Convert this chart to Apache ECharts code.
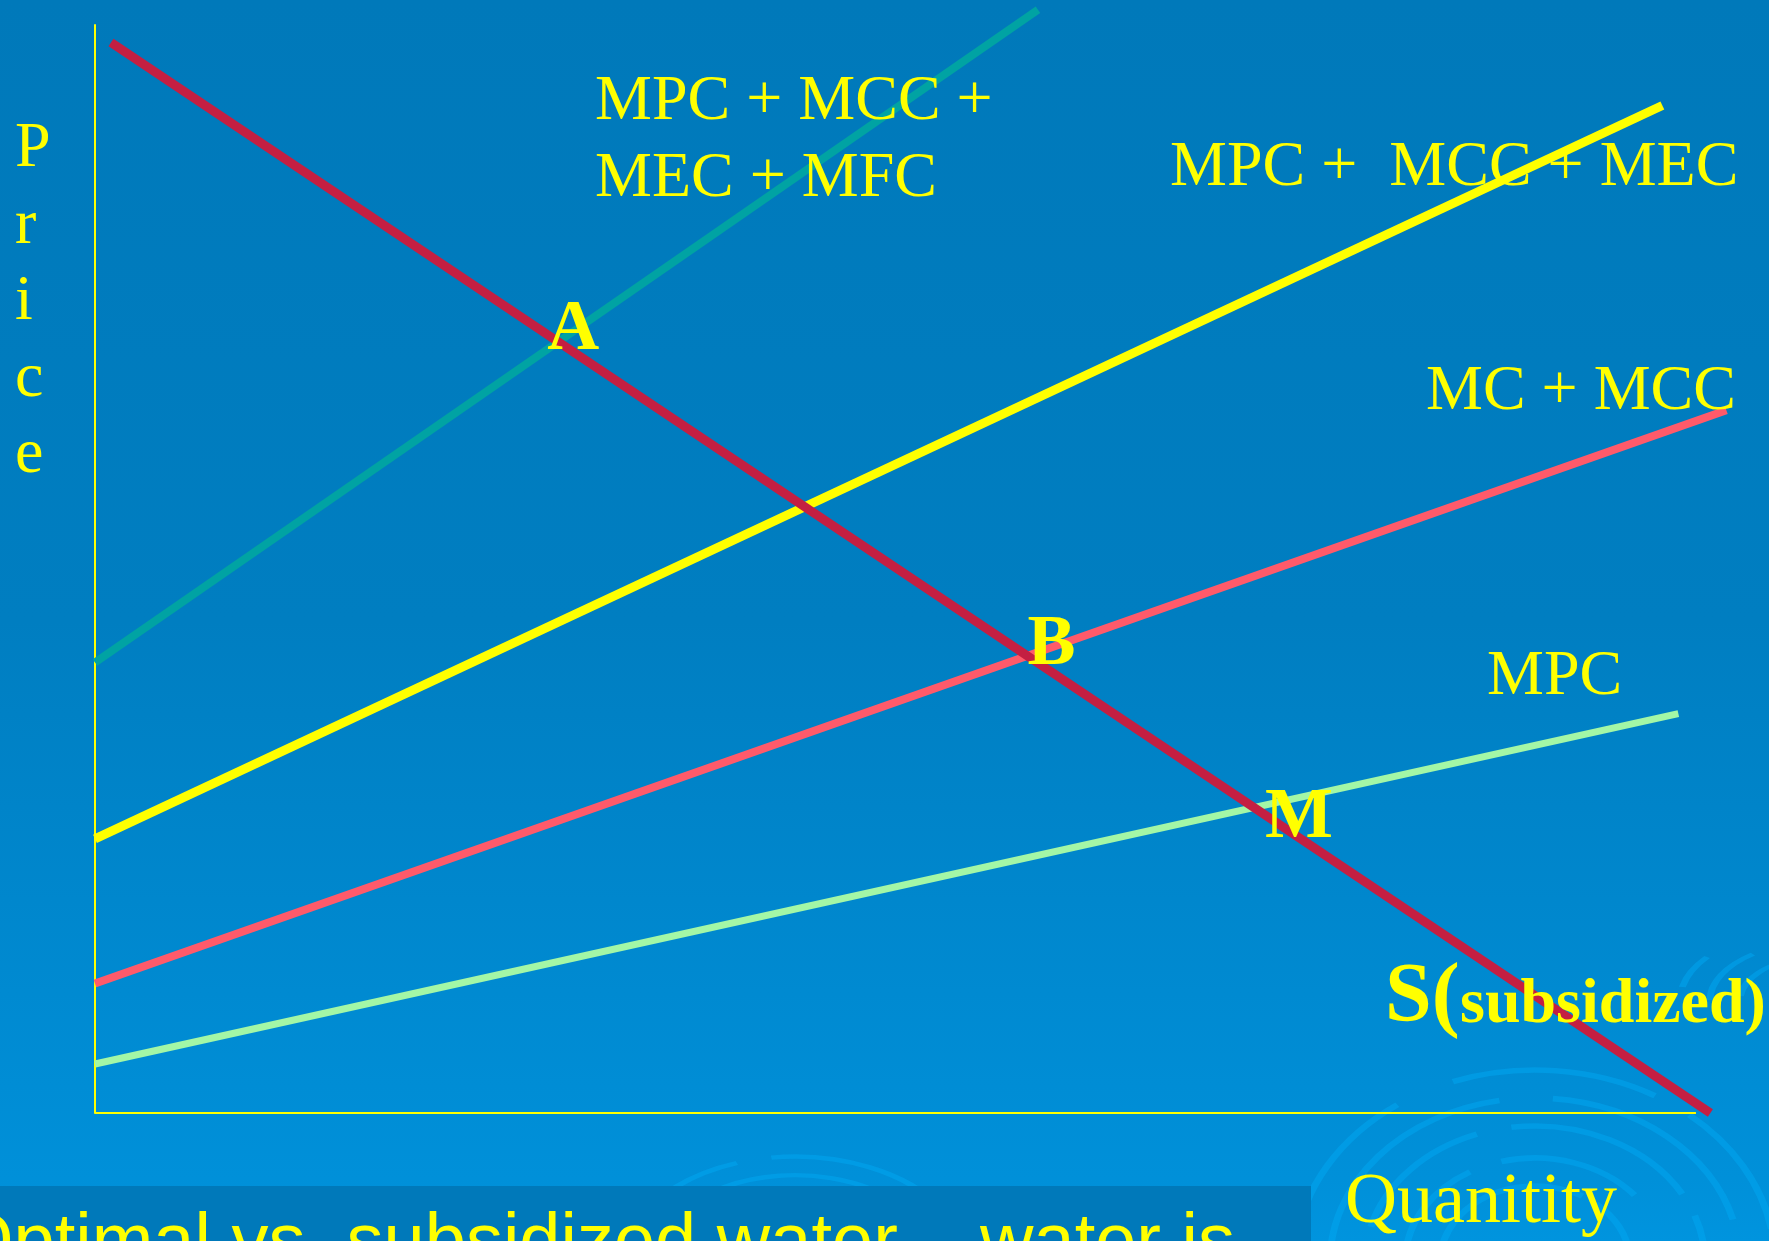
<!DOCTYPE html>
<html>
<head>
<meta charset="utf-8">
<title>Optimal vs. subsidized water</title>
<script src="https://cdn.jsdelivr.net/npm/echarts@6/dist/echarts.min.js"></script>
<style>
  html, body { margin: 0; padding: 0; width: 100%; height: 100%; overflow: hidden; background: #0079BA; }
  #chart { width: 1769px; height: 1241px; }
</style>
</head>
<body>
<div id="chart"></div>
<script>
// Curves: each is a straight line given by two [quantity, price] points (axis units 0-100)
const curveNames = ['S(subsidized)', 'MPC + MCC + MEC + MFC', 'MPC + MCC + MEC', 'MC + MCC', 'MPC'];
const demandLine = [[1.0, 98.4], [100.9, 0]];
const fullCostLine = [[0, 41.4], [58.9, 101.4]];
const envCostLine = [[0, 25.2], [97.9, 92.6]];
const conveyanceCostLine = [[0, 11.9], [101.9, 64.6]];
const privateCostLine = [[0, 4.5], [98.9, 36.7]];
const quantityAxisLine = [[0, 0], [100, 0]];
const pointNames = ['A', 'B', 'M'];
const xRange = [0, 103];
const yRange = [0, 100];

const YELLOW = '#FFFF00';
const SERIF = '"Liberation Serif", "Times New Roman", serif';
const SANS = '"Liberation Sans", Arial, sans-serif';

// intersection of two straight lines, each given by two points
function cross(p, q) {
  const m1 = (p[1][1] - p[0][1]) / (p[1][0] - p[0][0]);
  const m2 = (q[1][1] - q[0][1]) / (q[1][0] - q[0][0]);
  const x = (q[0][1] - p[0][1] + m1 * p[0][0] - m2 * q[0][0]) / (m1 - m2);
  return [x, p[0][1] + m1 * (x - p[0][0])];
}

const equilibria = [
  cross(demandLine, fullCostLine),
  cross(demandLine, conveyanceCostLine),
  cross(demandLine, privateCostLine)
];
// label shift (px) of each point letter away from its crossing
const pointOffsets = [[15, -11], [24, -10], [45, 11]];

function lineSeries(name, data, color, width) {
  return {
    name: name, type: 'line', data: data, clip: false, symbol: 'none',
    lineStyle: { color: color, width: width, cap: 'butt' },
    silent: true, z: 3
  };
}

// ripple decoration: elliptical broken rings
function ripple(cx, cy, sy, rings) {
  const children = [];
  rings.forEach(function (ring) {
    ring.segs.forEach(function (s) {
      children.push({
        type: 'arc',
        shape: { cx: 0, cy: 0, r: ring.r, startAngle: s[0] * Math.PI / 180, endAngle: s[1] * Math.PI / 180, clockwise: true },
        style: { stroke: 'rgba(0,168,242,0.5)', lineWidth: 7, fill: null }
      });
    });
  });
  return { type: 'group', x: cx, y: cy, scaleY: sy, z: 0, silent: true, children: children };
}

function label(text, x, baseline, size, weight, family) {
  return {
    type: 'text', x: x, y: baseline - 0.305 * size, z: 20, silent: true,
    style: {
      text: text, fill: YELLOW, fontSize: size, fontWeight: weight || 'normal',
      fontFamily: family || SERIF, textAlign: 'left', textVerticalAlign: 'middle'
    }
  };
}

const graphics = [
  ripple(795, 1262, 0.62, [
    { r: 170, segs: [[200, 250], [262, 330]] },
    { r: 140, segs: [[195, 320]] },
    { r: 110, segs: [[210, 300]] }
  ]),
  ripple(1535, 1262, 0.8, [
    { r: 240, segs: [[185, 235], [250, 300], [310, 350]] },
    { r: 205, segs: [[180, 260], [275, 345]] },
    { r: 170, segs: [[195, 250], [262, 330], [340, 360]] },
    { r: 130, segs: [[185, 240], [255, 320]] },
    { r: 95, segs: [[190, 300], [310, 355]] }
  ]),
  ripple(1830, 1000, 0.5, [
    { r: 150, segs: [[190, 215]] },
    { r: 120, segs: [[180, 230]] },
    { r: 90, segs: [[185, 250]] }
  ]),
  { type: 'rect', z: 1, silent: true, shape: { x: 0, y: 1186, width: 1311, height: 60 }, style: { fill: '#0079BA' } },
  {
    type: 'text', x: 1235, y: 1245, z: 20, silent: true,
    style: { text: 'Optimal vs. subsidized water – water is', fill: YELLOW, fontSize: 74, fontFamily: SANS, textAlign: 'right', textVerticalAlign: 'middle' }
  },
  label('MPC + MCC +', 595, 122, 64),
  label('MEC + MFC', 595, 199, 64),
  label('MPC +  MCC + MEC', 1170, 188, 64),
  label('MC + MCC', 1426, 412, 64),
  label('MPC', 1487, 697, 64),
  label('S(', 1385, 1025, 84, 'bold'),
  label('subsidized)', 1460, 1025, 64, 'bold'),
  label('Quanitity', 1345, 1225, 72)
];
// vertical axis title, one letter per line
'Price'.split('').forEach(function (ch, i) {
  graphics.push(label(ch, 15, 169 + i * 76.5, 64));
});

const option = {
  animation: false,
  backgroundColor: {
    type: 'linear', x: 0, y: 0, x2: 0, y2: 1,
    colorStops: [
      { offset: 0, color: '#0079BA' },
      { offset: 0.5, color: '#007EC1' },
      { offset: 0.95, color: '#0090D9' },
      { offset: 1, color: '#0094DE' }
    ]
  },
  // 100 quantity units span 1601px; the range runs a little past 100 so curve ends are not cut
  grid: { left: 95, top: 25, right: 25, bottom: 128 },
  xAxis: {
    type: 'value', min: xRange[0], max: xRange[1],
    axisLine: { show: false }, axisTick: { show: false }, axisLabel: { show: false }, splitLine: { show: false }
  },
  yAxis: {
    type: 'value', min: yRange[0], max: yRange[1],
    axisLine: { show: true, onZero: false, lineStyle: { color: YELLOW, width: 2 } },
    axisTick: { show: false }, axisLabel: { show: false }, splitLine: { show: false }
  },
  series: [
    lineSeries('Quanitity', quantityAxisLine, YELLOW, 2),
    lineSeries(curveNames[1], fullCostLine, '#00A3A3', 8),
    lineSeries(curveNames[2], envCostLine, '#FFFF00', 9),
    lineSeries(curveNames[3], conveyanceCostLine, '#FF5A6A', 8),
    lineSeries(curveNames[4], privateCostLine, '#A3F7A6', 7),
    lineSeries(curveNames[0], demandLine, '#C41F42', 9),
    {
      type: 'scatter', symbolSize: 1, itemStyle: { color: 'rgba(0,0,0,0)' }, silent: true, z: 10,
      data: equilibria.map(function (p, i) {
        return { name: pointNames[i], value: p };
      }),
      label: {
        show: true, position: 'inside', formatter: '{b}', color: YELLOW,
        textBorderWidth: 0, opacity: 1,
        fontFamily: SERIF, fontWeight: 'bold', fontSize: 72
      },
      labelLayout: function (params) {
        const off = pointOffsets[params.dataIndex];
        return { dx: off[0], dy: off[1], hideOverlap: false };
      }
    }
  ],
  graphic: graphics
};

const chart = echarts.init(document.getElementById('chart'));
chart.setOption(option);
</script>
</body>
</html>
